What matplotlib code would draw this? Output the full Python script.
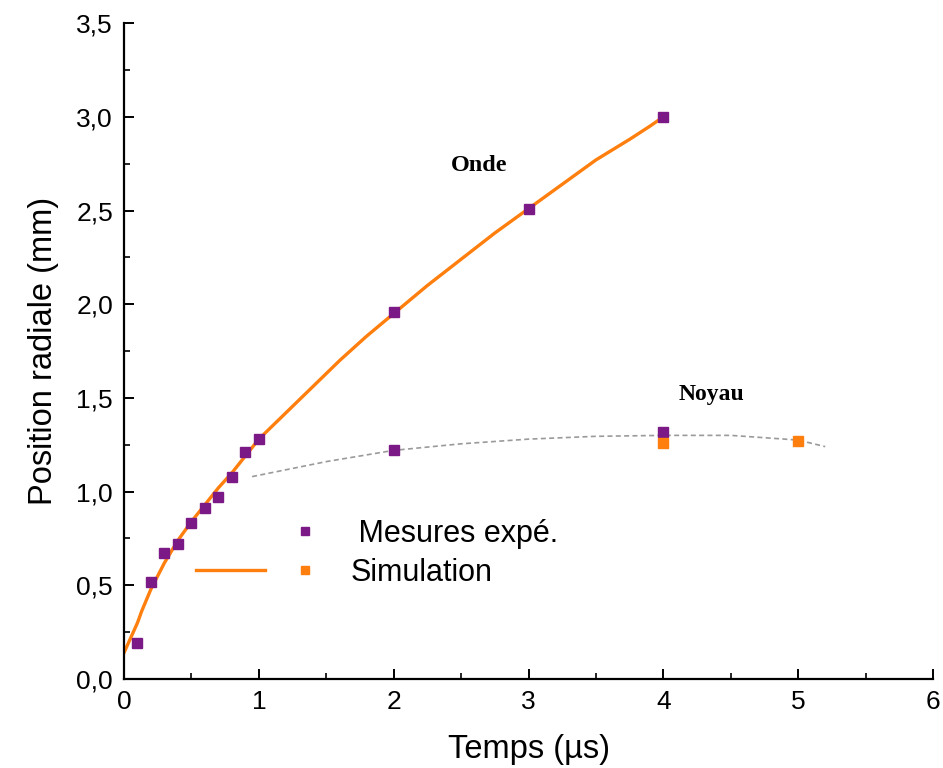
import matplotlib
matplotlib.use("Agg")
import matplotlib.pyplot as plt
from matplotlib.lines import Line2D
from matplotlib.legend_handler import HandlerTuple
from matplotlib.ticker import MultipleLocator

plt.rcParams["font.family"] = ["Liberation Sans", "DejaVu Sans"]

# experimental points (wave front)
onde_t = [0.1, 0.2, 0.3, 0.4, 0.5, 0.6, 0.7, 0.8, 0.9, 1.0, 2.0, 3.0, 4.0]
onde_r = [0.19, 0.52, 0.67, 0.72, 0.83, 0.91, 0.97, 1.08, 1.21, 1.28, 1.96, 2.51, 3.00]

# simulation curve (wave front)
sim_t = [0.0, 0.05, 0.1, 0.13, 0.2, 0.3, 0.4, 0.5, 0.6, 0.7, 0.8, 0.9, 1.0,
         1.2, 1.4, 1.6, 1.8, 2.0, 2.25, 2.5, 2.75, 3.0, 3.25, 3.5, 3.75, 3.9, 4.0]
sim_r = [0.14, 0.22, 0.30, 0.36, 0.48, 0.62, 0.74, 0.84, 0.93, 1.02, 1.10, 1.19, 1.28,
         1.42, 1.56, 1.70, 1.83, 1.95, 2.10, 2.24, 2.38, 2.51, 2.64, 2.77, 2.88, 2.95, 3.00]

# core (noyau)
noyau_exp_t = [2.0, 4.0]
noyau_exp_r = [1.22, 1.32]
noyau_sim_t = [4.0, 5.0]
noyau_sim_r = [1.26, 1.27]
noyau_fit_t = [0.95, 1.5, 2.0, 2.5, 3.0, 3.5, 4.0, 4.5, 5.0, 5.2]
noyau_fit_r = [1.08, 1.16, 1.22, 1.255, 1.28, 1.295, 1.30, 1.30, 1.275, 1.24]

PURPLE = "#7b1a86"
ORANGE = "#ff7f0e"

fig = plt.figure(figsize=(9.43, 7.68), dpi=100)
ax = fig.add_axes([0.1315, 0.1159, 0.858, 0.854])

ax.plot(noyau_fit_t, noyau_fit_r, color="#9a9a9a", lw=1.2, ls=(0, (3, 2)))
ax.plot(sim_t, sim_r, color=ORANGE, lw=2.4)
ax.plot(onde_t, onde_r, ls="none", marker="s", ms=6.5, color=PURPLE)
ax.plot(noyau_exp_t, noyau_exp_r, ls="none", marker="s", ms=6.5, color=PURPLE)
ax.plot(noyau_sim_t, noyau_sim_r, ls="none", marker="s", ms=6.5, color=ORANGE)

ax.text(2.63, 2.74, "Onde", family="Liberation Serif", weight="bold",
        fontsize=17.5, ha="center", va="center")
ax.text(4.36, 1.52, "Noyau", family="Liberation Serif", weight="bold",
        fontsize=17, ha="center", va="center")

ax.set_xlim(0, 6)
ax.set_ylim(0, 3.5)
ax.xaxis.set_major_locator(MultipleLocator(1))
ax.xaxis.set_minor_locator(MultipleLocator(0.5))
ax.yaxis.set_major_locator(MultipleLocator(0.5))
ax.yaxis.set_minor_locator(MultipleLocator(0.25))
ax.yaxis.set_major_formatter(lambda v, pos: f"{v:.1f}".replace(".", ","))

for side in ("top", "right"):
    ax.spines[side].set_visible(False)
for side in ("left", "bottom"):
    ax.spines[side].set_linewidth(1.6)
ax.tick_params(which="major", direction="in", length=7, width=1.4, labelsize=19, pad=8)
ax.tick_params(which="minor", direction="in", length=4, width=1.2)

ax.set_xlabel("Temps (µs)", fontsize=23.5, labelpad=14)
ax.set_ylabel("Position radiale (mm)", fontsize=23.5, labelpad=12)

# legend: marker-only entry for measurements, line + marker for simulation
blank = Line2D([], [], color="none")
h_exp = Line2D([], [], ls="none", marker="s", ms=5.5, color=PURPLE)
h_line = Line2D([], [], color=ORANGE, lw=2.4)
h_sim = Line2D([], [], ls="none", marker="s", ms=5.5, color=ORANGE)
ax.legend([(blank, h_exp), (h_line, h_sim)], [" Mesures expé.", "Simulation"],
          handler_map={tuple: HandlerTuple(ndivide=2, pad=0.18)},
          loc="upper left", bbox_to_anchor=(0.089, 0.244), frameon=False,
          fontsize=22, handlelength=4.7, handletextpad=0.35, labelspacing=0.28,
          borderpad=0, borderaxespad=0)

fig.savefig("out.png", dpi=100)
